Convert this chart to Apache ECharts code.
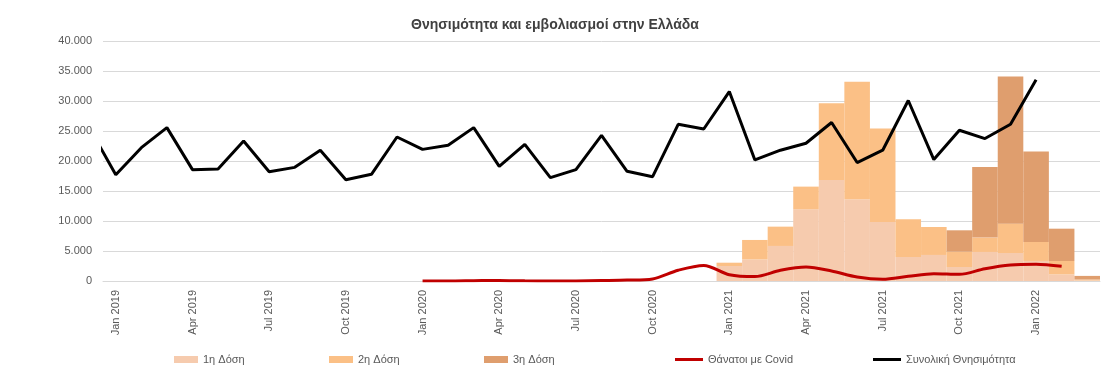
<!DOCTYPE html>
<html>
<head>
<meta charset="utf-8">
<script src="https://cdn.jsdelivr.net/npm/echarts@6/dist/echarts.min.js"></script>
<style>
  html, body { margin: 0; padding: 0; background: #ffffff; }
  #chart { width: 1110px; height: 376px; }
</style>
</head>
<body>
<div id="chart"></div>
<script>
const months = [
  'Jan 2019','Feb 2019','Mar 2019','Apr 2019','May 2019','Jun 2019','Jul 2019','Aug 2019','Sep 2019','Oct 2019','Nov 2019','Dec 2019',
  'Jan 2020','Feb 2020','Mar 2020','Apr 2020','May 2020','Jun 2020','Jul 2020','Aug 2020','Sep 2020','Oct 2020','Nov 2020','Dec 2020',
  'Jan 2021','Feb 2021','Mar 2021','Apr 2021','May 2021','Jun 2021','Jul 2021','Aug 2021','Sep 2021','Oct 2021','Nov 2021','Dec 2021',
  'Jan 2022','Feb 2022','Mar 2022'
];
const yTicks = [0, 5000, 10000, 15000, 20000, 25000, 30000, 35000, 40000];

// Total mortality; the chart's line enters from December 2018 (clipped at the left edge)
const totalDec2018 = 25280;
const totalDeaths = [
  17720, 22220, 25560, 18560, 18670, 23330, 18220, 18940, 21780, 16890, 17780, 24000,
  21940, 22610, 25560, 19110, 22780, 17220, 18560, 24280, 18280, 17390, 26110, 25330,
  31570, 20180, 21800, 22960, 26410, 19740, 21800, 30080, 20240, 25130, 23740, 26130,
  33530, null, null
];
const covidDeaths = [
  null, null, null, null, null, null, null, null, null, null, null, null,
  0, 0, 50, 100, 30, 10, 20, 80, 150, 350, 1800, 2600,
  1050, 730, 1780, 2330, 1660, 660, 280, 780, 1220, 1110, 2050, 2670,
  2780, 2440, null
];
const dose1 = [
  null, null, null, null, null, null, null, null, null, null, null, null,
  null, null, null, null, null, null, null, null, null, null, null, null,
  2500, 3600, 5840, 11950, 16850, 13620, 9840, 4000, 4340, 2330, 4840, 4670,
  3340, 1100, 100
];
const dose2 = [
  null, null, null, null, null, null, null, null, null, null, null, null,
  null, null, null, null, null, null, null, null, null, null, null, null,
  550, 3240, 3220, 3780, 12780, 19570, 15560, 6290, 4660, 2560, 2390, 4890,
  3160, 2230, 150
];
const dose3 = [
  null, null, null, null, null, null, null, null, null, null, null, null,
  null, null, null, null, null, null, null, null, null, null, null, null,
  null, null, null, null, null, null, null, null, null, 3560, 11780, 24520,
  15070, 5390, 600
];

const totalXY = [[-1, totalDec2018]].concat(
  totalDeaths.map((v, i) => [i, v]).filter(p => p[1] !== null)
);

const fmt = v => String(v).replace(/\B(?=(\d{3})+(?!\d))/g, '.');
const textColor = '#595959';
const font = 'Liberation Sans';

const chart = echarts.init(document.getElementById('chart'), null, { renderer: 'canvas' });
const legendBase = {
  top: 349, itemWidth: 24, itemHeight: 7, itemGap: 0,
  textStyle: { color: textColor, fontSize: 11, fontFamily: font },
  selectedMode: false
};
chart.setOption({
  animation: false,
  backgroundColor: '#ffffff',
  title: {
    text: 'Θνησιμότητα και εμβολιασμοί στην Ελλάδα',
    left: 'center', top: 13,
    textStyle: { color: '#404040', fontSize: 14, fontWeight: 'bold', fontFamily: font }
  },
  legend: [
    Object.assign({}, legendBase, { left: 169, data: [{ name: '1η Δόση', icon: 'rect' }] }),
    Object.assign({}, legendBase, { left: 324, data: [{ name: '2η Δόση', icon: 'rect' }] }),
    Object.assign({}, legendBase, { left: 479, data: [{ name: '3η Δόση', icon: 'rect' }] }),
    Object.assign({}, legendBase, { left: 670, itemWidth: 28, itemHeight: 3,
      data: [{ name: 'Θάνατοι με Covid', icon: 'rect' }] }),
    Object.assign({}, legendBase, { left: 868, itemWidth: 28, itemHeight: 3,
      data: [{ name: 'Συνολική Θνησιμότητα', icon: 'rect' }] })
  ],
  grid: { left: 103, right: 10, top: 41, bottom: 95, containLabel: false },
  xAxis: [
    {
      type: 'category',
      data: months,
      boundaryGap: true,
      axisLine: { show: true, lineStyle: { color: '#d9d9d9', width: 1 } },
      axisTick: { show: false },
      axisLabel: {
        interval: 2, rotate: 90, color: textColor, fontSize: 11, fontFamily: font, margin: 9
      },
      splitLine: { show: false }
    },
    {
      type: 'value',
      min: -0.5, max: 38.5,
      show: false
    }
  ],
  yAxis: {
    type: 'value',
    min: 0, max: 40000, interval: 5000,
    axisLine: { show: false },
    axisTick: { show: false },
    axisLabel: { color: textColor, fontSize: 11, fontFamily: font, margin: 11,
      formatter: v => yTicks.includes(v) ? fmt(v) : '' },
    splitLine: { lineStyle: { color: '#d9d9d9', width: 1 } }
  },
  series: [
    { name: '1η Δόση', type: 'bar', stack: 'doses', data: dose1, barCategoryGap: '0%',
      itemStyle: { color: '#F6CBAE' } },
    { name: '2η Δόση', type: 'bar', stack: 'doses', data: dose2, barCategoryGap: '0%',
      itemStyle: { color: '#FBC086' } },
    { name: '3η Δόση', type: 'bar', stack: 'doses', data: dose3, barCategoryGap: '0%',
      itemStyle: { color: '#DF9E6E' } },
    { name: 'Θάνατοι με Covid', type: 'line', data: covidDeaths, smooth: 0.3,
      symbol: 'none', connectNulls: false,
      lineStyle: { color: '#C00000', width: 3 }, itemStyle: { color: '#C00000' } },
    { name: 'Συνολική Θνησιμότητα', type: 'line', xAxisIndex: 1, data: totalXY,
      symbol: 'none', clip: true,
      lineStyle: { color: '#000000', width: 3 }, itemStyle: { color: '#000000' } }
  ]
});
</script>
</body>
</html>
